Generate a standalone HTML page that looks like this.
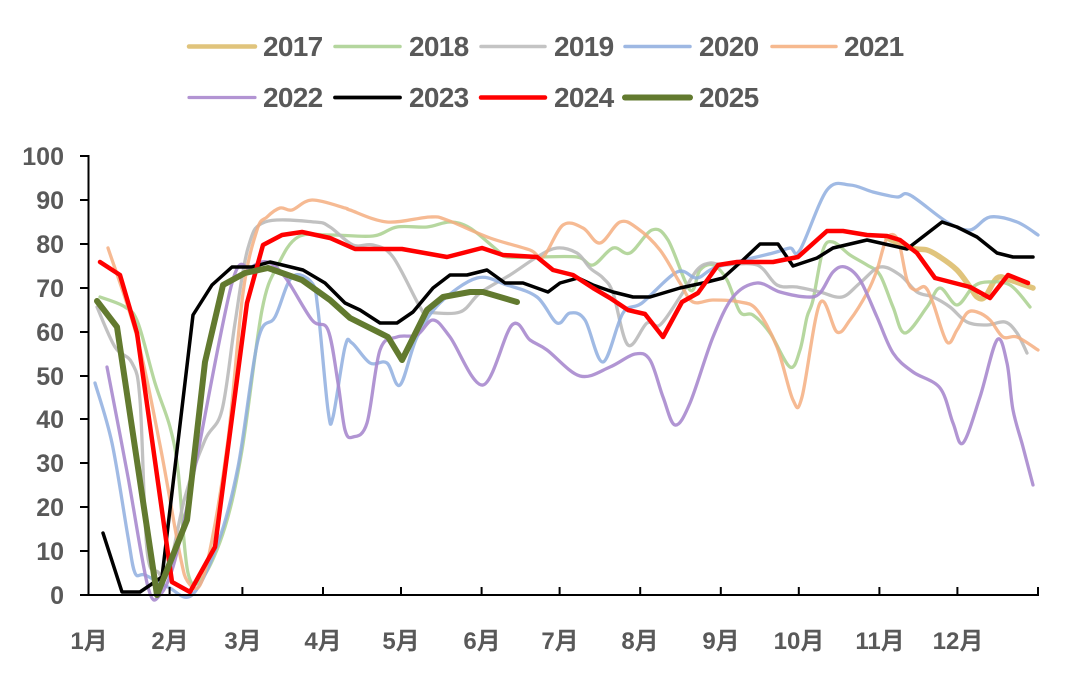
<!DOCTYPE html>
<html>
<head>
<meta charset="utf-8">
<style>
  html,body{margin:0;padding:0;background:#fff;}
  svg{display:block;}
  text{font-family:"Liberation Sans","Noto Sans CJK SC",sans-serif;font-weight:bold;fill:#595959;}
</style>
</head>
<body>
<svg id="chart" width="1080" height="687" viewBox="0 0 1080 687" xmlns="http://www.w3.org/2000/svg">
  <rect width="1080" height="687" fill="#fff"/>

  <!-- Legend -->
  <g stroke-linecap="round">
    <line x1="189" y1="46.5" x2="255" y2="46.5" stroke="#E0C47C" stroke-width="4.5"/>
    <line x1="335" y1="46.5" x2="400" y2="46.5" stroke="#B4D69E" stroke-width="3.5"/>
    <line x1="481" y1="46.5" x2="545" y2="46.5" stroke="#C4C4C4" stroke-width="3.5"/>
    <line x1="625" y1="46.5" x2="690" y2="46.5" stroke="#9EB8E3" stroke-width="3.5"/>
    <line x1="772" y1="46.5" x2="836" y2="46.5" stroke="#F6B98F" stroke-width="3.5"/>
    <line x1="189" y1="97.5" x2="255" y2="97.5" stroke="#B294D3" stroke-width="3.2"/>
    <line x1="335" y1="97.5" x2="400" y2="97.5" stroke="#000" stroke-width="3.8"/>
    <line x1="481" y1="97.5" x2="545" y2="97.5" stroke="#FF0000" stroke-width="4.5"/>
    <line x1="625" y1="97.5" x2="690" y2="97.5" stroke="#627A2F" stroke-width="6"/>
  </g>
  <g font-size="28" letter-spacing="-0.7">
    <text x="263" y="56">2017</text>
    <text x="409" y="56">2018</text>
    <text x="554" y="56">2019</text>
    <text x="699" y="56">2020</text>
    <text x="844" y="56">2021</text>
    <text x="263" y="107">2022</text>
    <text x="409" y="107">2023</text>
    <text x="554" y="107">2024</text>
    <text x="699" y="107">2025</text>
  </g>

  <!-- Y axis labels -->
  <g font-size="25" text-anchor="end">
    <text x="64" y="165">100</text>
    <text x="64" y="209">90</text>
    <text x="64" y="253">80</text>
    <text x="64" y="297">70</text>
    <text x="64" y="341">60</text>
    <text x="64" y="385">50</text>
    <text x="64" y="428">40</text>
    <text x="64" y="472">30</text>
    <text x="64" y="516">20</text>
    <text x="64" y="560">10</text>
    <text x="64" y="604">0</text>
  </g>

  <!-- X axis labels -->
  <g font-size="24" text-anchor="middle">
    <text x="89" y="649">1月</text>
    <text x="170" y="649">2月</text>
    <text x="243" y="649">3月</text>
    <text x="323" y="649">4月</text>
    <text x="401" y="649">5月</text>
    <text x="482" y="649">6月</text>
    <text x="560" y="649">7月</text>
    <text x="640" y="649">8月</text>
    <text x="721" y="649">9月</text>
    <text x="799" y="649">10月</text>
    <text x="880" y="649">11月</text>
    <text x="958" y="649">12月</text>
  </g>

  <!-- Series -->
  <g fill="none" stroke-linejoin="round" stroke-linecap="round">
    <!-- 2017 -->
    <polyline class="s" stroke="#E0C47C" stroke-width="5.5" points="887,238 910,248 927,250 940,257 957,270 970,287 977,297 985,297 997,278 1010,280 1033,288"/>
    <!-- 2018 -->
    <polyline class="s" stroke="#A9D08E" stroke-opacity="0.85" stroke-width="3.3" points="100,297 125,307 138,323 155,383 170,427 178,470 188,573 203,577 225,527 242,450 262,310 278,265 298,237 330,235 373,236 397,227 427,227 450,222 470,228 497,250 507,257 537,257 577,257 593,265 613,248 630,253 652,230 668,240 690,290 700,270 713,265 727,280 740,312 753,315 770,333 790,367 800,350 807,317 813,300 823,250 833,242 850,255 867,265 880,275 893,307 905,333 927,307 940,288 957,305 973,287 987,282 1010,285 1030,307"/>
    <!-- 2019 -->
    <polyline class="s" stroke="#BABABA" stroke-opacity="0.9" stroke-width="3.3" points="97,307 115,347 132,363 140,400 147,550 158,572 168,573 185,497 205,440 222,410 235,323 248,248 265,222 315,222 330,227 353,245 373,245 393,257 420,307 427,312 460,312 480,293 510,275 537,257 557,248 577,253 590,268 603,278 613,293 628,345 647,323 660,325 680,297 697,270 710,263 723,265 757,265 777,285 797,287 820,292 842,297 860,283 880,267 900,275 917,292 933,297 950,307 967,322 987,325 1005,322 1017,333 1027,353"/>
    <!-- 2020 -->
    <polyline class="s" stroke="#8FAEDF" stroke-opacity="0.85" stroke-width="3.3" points="95,383 112,443 128,537 135,573 145,575 168,587 192,595 218,543 238,467 258,340 275,317 292,277 312,283 318,310 328,410 333,417 345,347 352,343 370,363 387,363 400,385 417,337 440,303 477,278 507,285 537,297 557,323 570,313 585,320 603,362 623,313 642,303 677,272 697,278 717,267 773,253 790,248 800,250 827,190 850,185 873,192 897,197 910,195 947,222 970,230 990,217 1017,222 1038,235"/>
    <!-- 2021 -->
    <polyline class="s" stroke="#F4AE80" stroke-opacity="0.85" stroke-width="3.3" points="108,248 137,337 160,445 180,555 188,582 200,585 212,540 228,440 243,293 257,230 267,217 280,208 292,210 312,200 345,208 350,210 387,222 430,217 447,220 490,238 530,250 543,257 563,225 583,228 600,243 620,222 637,228 660,250 680,283 693,302 713,300 740,302 757,310 777,347 793,400 802,397 820,303 837,332 850,320 867,293 877,270 887,238 898,240 907,280 915,290 925,287 933,303 947,342 957,330 967,313 977,312 990,320 1003,337 1017,337 1038,350"/>
    <!-- 2022 -->
    <polyline class="s" stroke="#A98ACE" stroke-opacity="0.9" stroke-width="3.3" points="107,367 128,477 148,587 160,595 175,560 195,467 232,283 250,268 267,262 285,277 312,320 328,330 338,383 345,430 353,437 367,423 380,350 397,337 417,335 433,320 450,337 483,385 512,325 530,340 547,350 580,376 610,367 635,354 650,360 663,397 675,425 690,403 713,337 733,297 757,283 780,292 807,297 820,293 833,272 845,267 860,280 877,317 893,353 913,372 940,388 953,423 963,443 980,397 997,340 1007,363 1013,410 1023,447 1033,485"/>
    <!-- 2023 -->
    <polyline stroke="#000000" stroke-width="3.5" points="103,533 122,592 140,592 162,577 193,315 212,285 232,267 252,267 270,262 303,270 325,283 345,303 360,310 380,323 397,323 413,312 433,288 450,275 467,275 487,270 505,283 523,283 548,292 560,283 578,278 593,285 613,292 633,297 650,297 680,288 703,283 723,278 743,260 760,244 778,244 793,266 817,258 833,248 867,240 907,249 942,222 957,227 977,237 997,253 1013,257 1033,257"/>
    <!-- 2024 -->
    <polyline stroke="#FF0000" stroke-width="4.5" points="100,262 120,275 137,333 172,582 190,592 215,547 247,303 263,245 282,235 302,232 330,238 355,249 402,249 447,257 482,248 503,255 537,257 553,270 573,275 593,288 610,298 628,310 645,314 663,337 682,302 698,293 718,265 737,262 773,262 798,257 827,231 843,231 867,235 887,236 900,240 917,253 935,278 970,287 990,298 1008,275 1028,283"/>
    <!-- 2025 -->
    <polyline stroke="#627A2F" stroke-width="6" points="97,301 117,327 157,595 187,520 205,362 223,285 245,273 268,268 302,280 330,300 350,318 388,337 402,360 427,310 443,297 470,292 483,292 517,302"/>
  </g>

  <!-- Axes -->
  <g stroke="#000" stroke-width="2" fill="none">
    <line x1="88.5" y1="155" x2="88.5" y2="596"/>
    <line x1="88" y1="595" x2="1039" y2="595"/>
    <path d="M80,156H88 M80,200H88 M80,244H88 M80,288H88 M80,332H88 M80,376H88 M80,419H88 M80,463H88 M80,507H88 M80,551H88 M80,595H88"/>
    <path d="M169.6,595V587 M242.4,595V587 M323,595V587 M401,595V587 M481.6,595V587 M559.6,595V587 M640.2,595V587 M720.8,595V587 M798.8,595V587 M879.4,595V587 M957.4,595V587 M1038,595V587"/>
  </g>
</svg>
<script>
(function(){
  var NS="http://www.w3.org/2000/svg";
  var pls=document.querySelectorAll("polyline.s");
  for(var k=0;k<pls.length;k++){
    var pl=pls[k];
    var raw=pl.getAttribute("points").trim().split(/\s+/);
    var p=raw.map(function(s){var a=s.split(",");return [parseFloat(a[0]),parseFloat(a[1])];});
    if(p.length<3)continue;
    var d="M"+p[0][0]+","+p[0][1];
    for(var i=0;i<p.length-1;i++){
      var p0=p[i>0?i-1:i],p1=p[i],p2=p[i+1],p3=p[i+2<p.length?i+2:i+1];
      var c1x=p1[0]+(p2[0]-p0[0])/6,c1y=p1[1]+(p2[1]-p0[1])/6;
      var c2x=p2[0]-(p3[0]-p1[0])/6,c2y=p2[1]-(p3[1]-p1[1])/6;
      d+=" C"+c1x.toFixed(1)+","+c1y.toFixed(1)+" "+c2x.toFixed(1)+","+c2y.toFixed(1)+" "+p2[0]+","+p2[1];
    }
    var path=document.createElementNS(NS,"path");
    path.setAttribute("d",d);
    ["stroke","stroke-width","stroke-opacity"].forEach(function(a){var v=pl.getAttribute(a);if(v!==null)path.setAttribute(a,v);});
    pl.parentNode.replaceChild(path,pl);
  }
})();
</script>
</body>
</html>
